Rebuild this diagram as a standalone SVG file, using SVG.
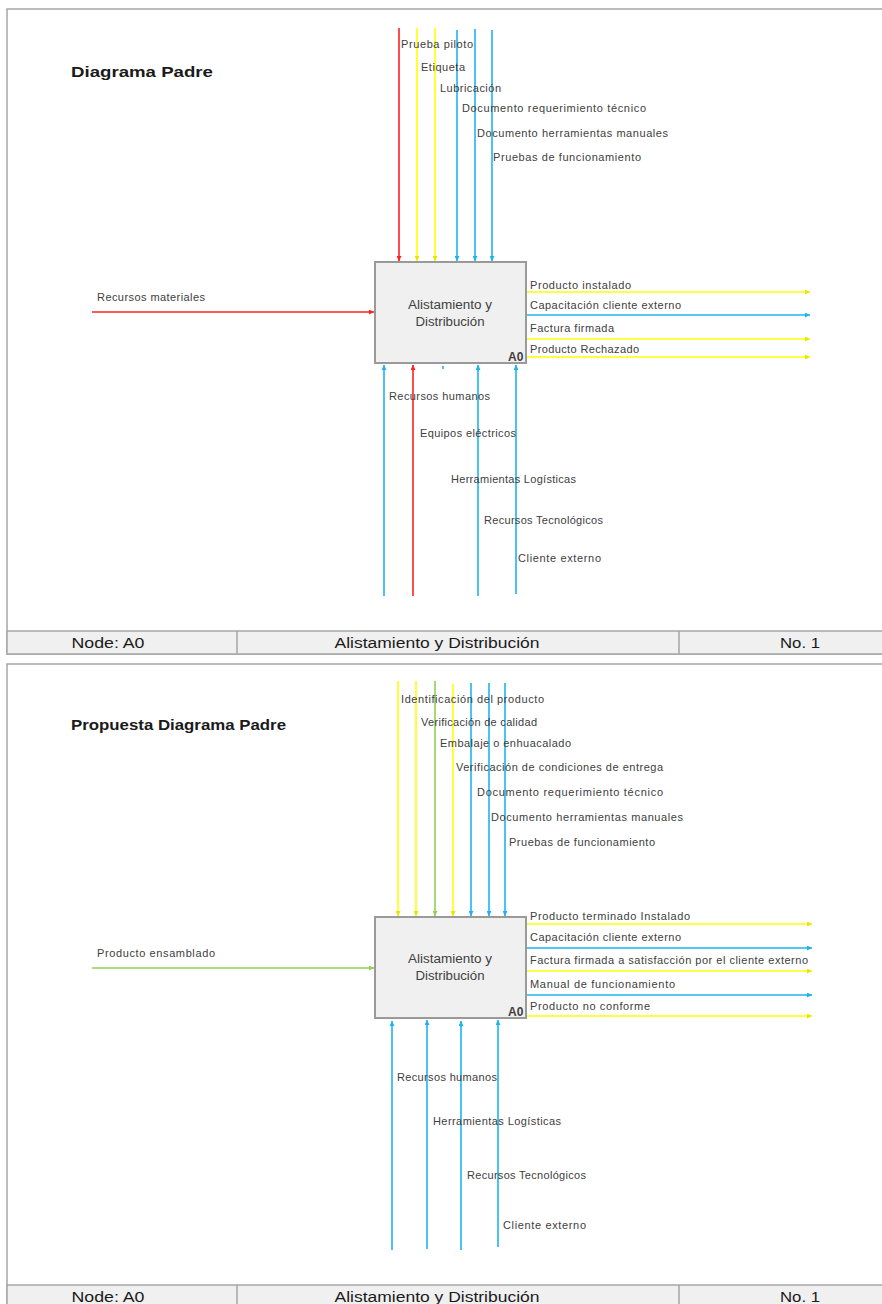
<svg xmlns="http://www.w3.org/2000/svg" width="882" height="1304" viewBox="0 0 882 1304">
  <style>
    .frame { fill: #ffffff; stroke: #a6a6a6; stroke-width: 1.5; }
    .foot { fill: #f0f0f0; stroke: #a6a6a6; stroke-width: 1.5; }
    .box { fill: #f0f0f0; stroke: #9a9a9a; stroke-width: 2; }
    .lbl { font-family: "Liberation Sans", Arial, sans-serif; font-size: 11px; fill: #404040; }
    .boxt { font-family: "Liberation Sans", Arial, sans-serif; font-size: 12px; fill: #404040; text-anchor: middle; }
    .code { font-family: "Liberation Sans", Arial, sans-serif; font-size: 12px; font-weight: bold; fill: #404040; }
    .title { font-family: "Liberation Sans", Arial, sans-serif; font-size: 15px; font-weight: bold; fill: #1a1a1a; }
    .ft { font-family: "Liberation Sans", Arial, sans-serif; font-size: 14px; fill: #1a1a1a; text-anchor: middle; }
    .red { stroke: #ff2020; stroke-width: 1.6; fill: none; }
    .yel { stroke: #ffff00; stroke-width: 1.6; fill: none; }
    .blu { stroke: #1cb4f0; stroke-width: 1.6; fill: none; }
    .grn { stroke: #92d050; stroke-width: 1.6; fill: none; }
  </style>
  <defs>
    <marker id="ar" viewBox="0 0 6 6" refX="6" refY="3" markerWidth="5" markerHeight="5" markerUnits="userSpaceOnUse" orient="auto"><path d="M0,0 L6,3 L0,6 z" fill="#ff2020"/></marker>
    <marker id="ay" viewBox="0 0 6 6" refX="6" refY="3" markerWidth="5" markerHeight="5" markerUnits="userSpaceOnUse" orient="auto"><path d="M0,0 L6,3 L0,6 z" fill="#e6e600"/></marker>
    <marker id="ab" viewBox="0 0 6 6" refX="6" refY="3" markerWidth="5" markerHeight="5" markerUnits="userSpaceOnUse" orient="auto"><path d="M0,0 L6,3 L0,6 z" fill="#1cb4f0"/></marker>
    <marker id="ag" viewBox="0 0 6 6" refX="6" refY="3" markerWidth="5" markerHeight="5" markerUnits="userSpaceOnUse" orient="auto"><path d="M0,0 L6,3 L0,6 z" fill="#92d050"/></marker>
  </defs>

  <!-- ===== Diagrama Padre ===== -->
  <g id="panel1">
    <rect class="frame" x="7" y="9" width="890" height="645"/>
    <text class="title" x="71" y="77" textLength="142" lengthAdjust="spacingAndGlyphs">Diagrama Padre</text>
  </g>
  <g id="footer1">
    <rect class="foot" x="7" y="631" width="890" height="23"/>
    <line x1="237" y1="631" x2="237" y2="654" stroke="#a6a6a6" stroke-width="1.5"/>
    <line x1="679" y1="631" x2="679" y2="654" stroke="#a6a6a6" stroke-width="1.5"/>
    <text class="ft" x="108" y="648" textLength="73" lengthAdjust="spacingAndGlyphs">Node: A0</text>
    <text class="ft" x="437" y="648" textLength="205" lengthAdjust="spacingAndGlyphs">Alistamiento y Distribución</text>
    <text class="ft" x="800" y="648" textLength="40" lengthAdjust="spacingAndGlyphs">No. 1</text>
  </g>
  <g id="A0-padre">
    <rect class="box" x="375" y="262" width="151" height="101"/>
    <text class="boxt" x="450" y="309" textLength="84" lengthAdjust="spacingAndGlyphs">Alistamiento y</text>
    <text class="boxt" x="450" y="326" textLength="69" lengthAdjust="spacingAndGlyphs">Distribución</text>
    <text class="code" x="508" y="361">A0</text>
  </g>
  <g id="connectors1">
    <!-- controls from above -->
    <line class="red" x1="399" y1="28" x2="399" y2="261" marker-end="url(#ar)"/>
    <line class="yel" x1="417" y1="28" x2="417" y2="261" marker-end="url(#ay)"/>
    <line class="yel" x1="435" y1="28" x2="435" y2="261" marker-end="url(#ay)"/>
    <line class="blu" x1="457" y1="30" x2="457" y2="261" marker-end="url(#ab)"/>
    <line class="blu" x1="475" y1="29" x2="475" y2="261" marker-end="url(#ab)"/>
    <line class="blu" x1="492" y1="30" x2="492" y2="261" marker-end="url(#ab)"/>
    <!-- input -->
    <line class="red" x1="92" y1="312" x2="374" y2="312" marker-end="url(#ar)"/>
    <!-- outputs -->
    <line class="yel" x1="527" y1="292" x2="810" y2="292" marker-end="url(#ay)"/>
    <line class="blu" x1="527" y1="315" x2="810" y2="315" marker-end="url(#ab)"/>
    <line class="yel" x1="527" y1="339" x2="810" y2="339" marker-end="url(#ay)"/>
    <line class="yel" x1="527" y1="357" x2="810" y2="357" marker-end="url(#ay)"/>
    <!-- mechanisms from below -->
    <line class="blu" x1="384" y1="596" x2="384" y2="365" marker-end="url(#ab)"/>
    <line class="red" x1="413" y1="596" x2="413" y2="365" marker-end="url(#ar)"/>
    <line class="blu" x1="478" y1="596" x2="478" y2="365" marker-end="url(#ab)"/>
    <line class="blu" x1="516" y1="594" x2="516" y2="365" marker-end="url(#ab)"/>
    <line class="blu" x1="443" y1="366" x2="443" y2="369"/>
  </g>
  <g id="labels1">
    <text class="lbl" x="401" y="48" textLength="72" lengthAdjust="spacing">Prueba piloto</text>
    <text class="lbl" x="421" y="71" textLength="44" lengthAdjust="spacing">Etiqueta</text>
    <text class="lbl" x="440" y="92" textLength="61" lengthAdjust="spacing">Lubricación</text>
    <text class="lbl" x="462" y="112" textLength="184" lengthAdjust="spacing">Documento requerimiento técnico</text>
    <text class="lbl" x="477" y="137" textLength="191" lengthAdjust="spacing">Documento herramientas manuales</text>
    <text class="lbl" x="493" y="161" textLength="148" lengthAdjust="spacing">Pruebas de funcionamiento</text>
    <text class="lbl" x="97" y="301" textLength="108" lengthAdjust="spacing">Recursos materiales</text>
    <text class="lbl" x="530" y="289" textLength="101" lengthAdjust="spacing">Producto instalado</text>
    <text class="lbl" x="530" y="309" textLength="151" lengthAdjust="spacing">Capacitación cliente externo</text>
    <text class="lbl" x="530" y="332" textLength="84" lengthAdjust="spacing">Factura firmada</text>
    <text class="lbl" x="530" y="353" textLength="109" lengthAdjust="spacing">Producto Rechazado</text>
    <text class="lbl" x="389" y="400" textLength="101" lengthAdjust="spacing">Recursos humanos</text>
    <text class="lbl" x="420" y="437" textLength="96" lengthAdjust="spacing">Equipos eléctricos</text>
    <text class="lbl" x="451" y="483" textLength="125" lengthAdjust="spacing">Herramientas Logísticas</text>
    <text class="lbl" x="484" y="524" textLength="119" lengthAdjust="spacing">Recursos Tecnológicos</text>
    <text class="lbl" x="518" y="562" textLength="83" lengthAdjust="spacing">Cliente externo</text>
  </g>

  <!-- ===== Propuesta Diagrama Padre ===== -->
  <g id="panel2">
    <rect class="frame" x="7" y="664" width="890" height="660"/>
    <text class="title" x="71" y="730" textLength="215" lengthAdjust="spacingAndGlyphs">Propuesta Diagrama Padre</text>
  </g>
  <g id="footer2">
    <rect class="foot" x="7" y="1285" width="890" height="30"/>
    <line x1="237" y1="1285" x2="237" y2="1304" stroke="#a6a6a6" stroke-width="1.5"/>
    <line x1="679" y1="1285" x2="679" y2="1304" stroke="#a6a6a6" stroke-width="1.5"/>
    <text class="ft" x="108" y="1302" textLength="73" lengthAdjust="spacingAndGlyphs">Node: A0</text>
    <text class="ft" x="437" y="1302" textLength="205" lengthAdjust="spacingAndGlyphs">Alistamiento y Distribución</text>
    <text class="ft" x="800" y="1302" textLength="40" lengthAdjust="spacingAndGlyphs">No. 1</text>
  </g>
  <g id="A0-propuesta">
    <rect class="box" x="375" y="917" width="151" height="101"/>
    <text class="boxt" x="450" y="963" textLength="84" lengthAdjust="spacingAndGlyphs">Alistamiento y</text>
    <text class="boxt" x="450" y="980" textLength="69" lengthAdjust="spacingAndGlyphs">Distribución</text>
    <text class="code" x="508" y="1016">A0</text>
  </g>
  <g id="connectors2">
    <!-- controls from above -->
    <line class="yel" x1="398" y1="681" x2="398" y2="916" marker-end="url(#ay)"/>
    <line class="yel" x1="416" y1="681" x2="416" y2="916" marker-end="url(#ay)"/>
    <line class="grn" x1="435" y1="681" x2="435" y2="916" marker-end="url(#ag)"/>
    <line class="yel" x1="453" y1="684" x2="453" y2="916" marker-end="url(#ay)"/>
    <line class="blu" x1="471" y1="683" x2="471" y2="916" marker-end="url(#ab)"/>
    <line class="blu" x1="489" y1="683" x2="489" y2="916" marker-end="url(#ab)"/>
    <line class="blu" x1="505" y1="683" x2="505" y2="916" marker-end="url(#ab)"/>
    <!-- input -->
    <line class="grn" x1="92" y1="968" x2="374" y2="968" marker-end="url(#ag)"/>
    <!-- outputs -->
    <line class="yel" x1="527" y1="924" x2="812" y2="924" marker-end="url(#ay)"/>
    <line class="blu" x1="527" y1="948" x2="812" y2="948" marker-end="url(#ab)"/>
    <line class="yel" x1="527" y1="971" x2="812" y2="971" marker-end="url(#ay)"/>
    <line class="blu" x1="527" y1="995" x2="812" y2="995" marker-end="url(#ab)"/>
    <line class="yel" x1="527" y1="1016" x2="812" y2="1016" marker-end="url(#ay)"/>
    <!-- mechanisms from below -->
    <line class="blu" x1="392" y1="1250" x2="392" y2="1021" marker-end="url(#ab)"/>
    <line class="blu" x1="427" y1="1249" x2="427" y2="1020" marker-end="url(#ab)"/>
    <line class="blu" x1="461" y1="1250" x2="461" y2="1021" marker-end="url(#ab)"/>
    <line class="blu" x1="498" y1="1247" x2="498" y2="1020" marker-end="url(#ab)"/>
  </g>
  <g id="labels2">
    <text class="lbl" x="401" y="703" textLength="143" lengthAdjust="spacing">Identificación del producto</text>
    <text class="lbl" x="421" y="726" textLength="116" lengthAdjust="spacing">Verificación de calidad</text>
    <text class="lbl" x="440" y="747" textLength="131" lengthAdjust="spacing">Embalaje o enhuacalado</text>
    <text class="lbl" x="456" y="771" textLength="207" lengthAdjust="spacing">Verificación de condiciones de entrega</text>
    <text class="lbl" x="477" y="796" textLength="186" lengthAdjust="spacing">Documento requerimiento técnico</text>
    <text class="lbl" x="491" y="821" textLength="192" lengthAdjust="spacing">Documento herramientas manuales</text>
    <text class="lbl" x="509" y="846" textLength="146" lengthAdjust="spacing">Pruebas de funcionamiento</text>
    <text class="lbl" x="97" y="957" textLength="118" lengthAdjust="spacing">Producto ensamblado</text>
    <text class="lbl" x="530" y="920" textLength="160" lengthAdjust="spacing">Producto terminado Instalado</text>
    <text class="lbl" x="530" y="941" textLength="151" lengthAdjust="spacing">Capacitación cliente externo</text>
    <text class="lbl" x="530" y="964" textLength="278" lengthAdjust="spacing">Factura firmada a satisfacción por el cliente externo</text>
    <text class="lbl" x="530" y="988" textLength="145" lengthAdjust="spacing">Manual de funcionamiento</text>
    <text class="lbl" x="530" y="1010" textLength="120" lengthAdjust="spacing">Producto no conforme</text>
    <text class="lbl" x="397" y="1081" textLength="100" lengthAdjust="spacing">Recursos humanos</text>
    <text class="lbl" x="433" y="1125" textLength="128" lengthAdjust="spacing">Herramientas Logísticas</text>
    <text class="lbl" x="467" y="1179" textLength="119" lengthAdjust="spacing">Recursos Tecnológicos</text>
    <text class="lbl" x="503" y="1229" textLength="83" lengthAdjust="spacing">Cliente externo</text>
  </g>
</svg>
